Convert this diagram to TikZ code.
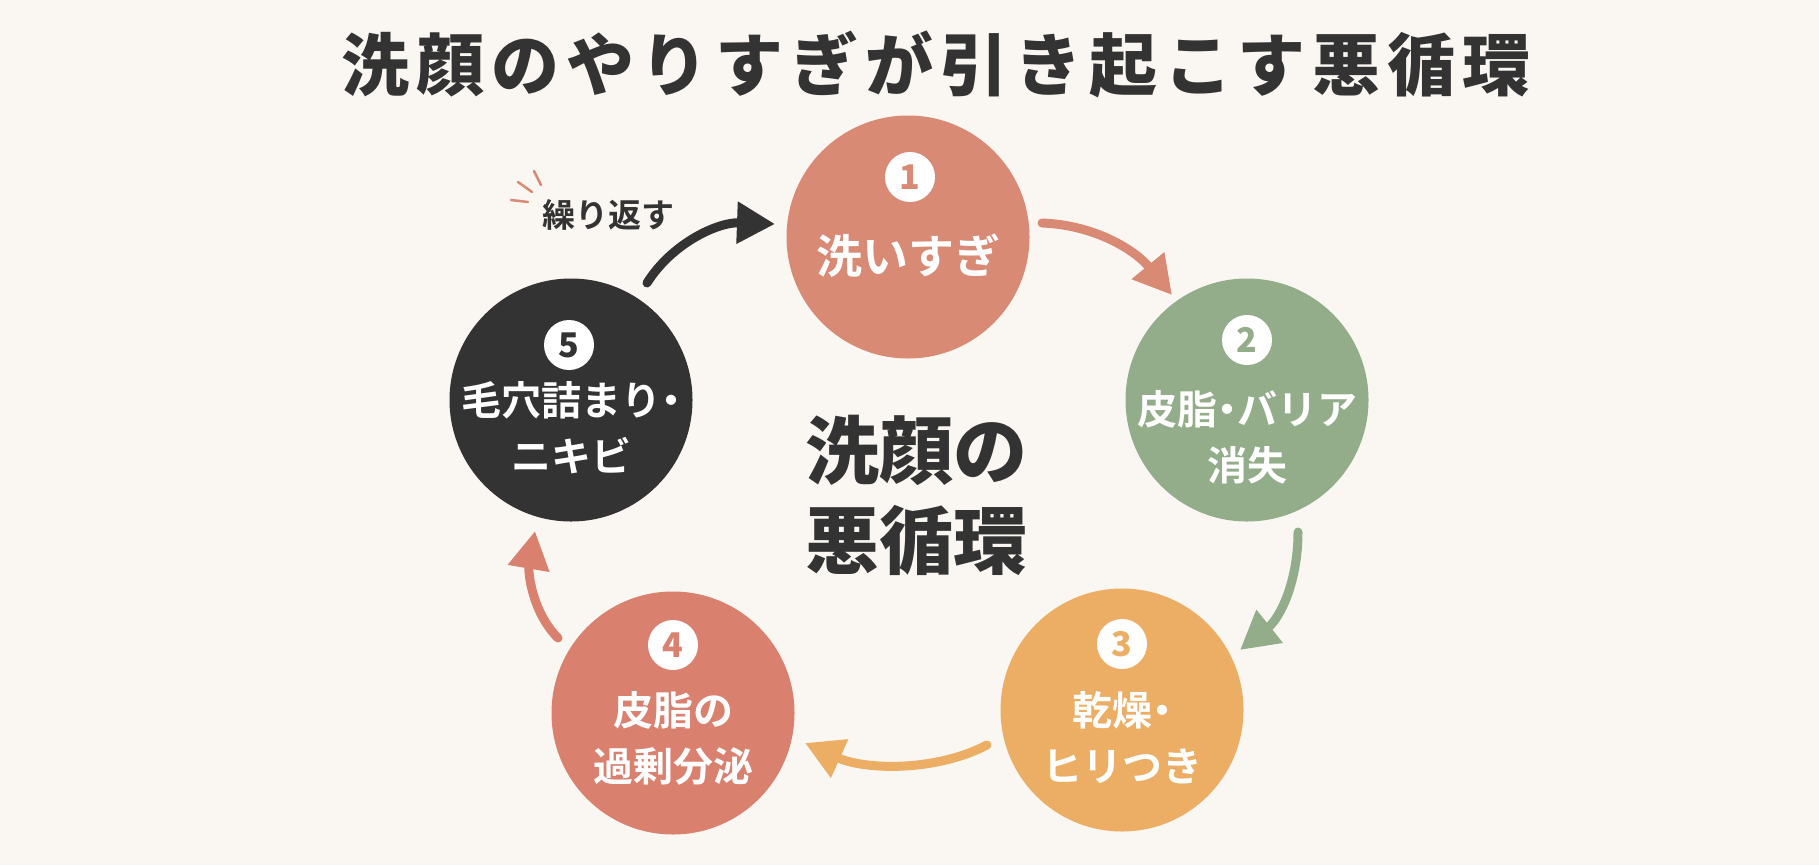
\documentclass[tikz,border=0pt]{standalone}
\usepackage{fontspec}
\newfontfamily\cjk{Noto Sans CJK JP}[BoldFont={Noto Sans CJK JP Bold}]
\IfFontExistsTF{Noto Sans CJK JP Black}
  {\newfontfamily\cjkblack{Noto Sans CJK JP Black}}
  {\newfontfamily\cjkblack{Noto Sans CJK JP Bold}}
\usetikzlibrary{arrows.meta}
\definecolor{bg}{HTML}{FAF7F2}
\definecolor{salmon}{HTML}{D98A75}
\definecolor{salmonb}{HTML}{D9806F}
\definecolor{sage}{HTML}{93AD8A}
\definecolor{amber}{HTML}{EBAE64}
\definecolor{ink}{HTML}{333333}
\newcommand{\hdot}{{\addfontfeature{RawFeature=+palt}・}}
\tikzset{
  stage/.style={circle, fill=#1, minimum size=243pt, inner sep=0pt},
  badge/.style={circle, fill=white, minimum size=50pt, inner sep=0pt, text=#1, font=\cjkblack\fontsize{34}{36}\selectfont},
  label/.style={text=white, align=center, font=\cjk\bfseries\fontsize{40}{56}\selectfont},
  flow/.style={draw=#1, line width=9pt, line cap=round, -{Triangle[length=38pt,width=40pt]}},
  spark/.style={draw=salmon, line width=2.5pt, line cap=round}
}
\begin{document}
\begin{tikzpicture}[x=1pt,y=-1pt]
\fill[bg] (0,0) rectangle (1819,865);
\useasboundingbox (0,0) rectangle (1819,865);
\node[text=ink, font=\cjkblack\fontsize{68}{80}\selectfont, inner sep=0pt] (title) at (936,64) {\addfontfeature{LetterSpace=10}洗顔のやりすぎが引き起こす悪循環};
% circles
\node[stage=salmon] (c1) at (908,237) {};
\node[stage=sage] (c2) at (1247,400) {};
\node[stage=amber] (c3) at (1122,710) {};
\node[stage=salmonb] (c4) at (673,713) {};
\node[stage=ink] (c5) at (571,400) {};
% badges
\node[badge=salmon] (b1) at (910,177) {1};
\node[badge=sage] (b2) at (1247,340) {2};
\node[badge=amber] (b3) at (1122,644) {3};
\node[badge=salmonb] (b4) at (673,645) {4};
\node[badge=ink] (b5) at (569,345) {5};
% labels
\node[label, font=\cjk\bfseries\fontsize{46}{56}\selectfont] (l1) at (908,256) {洗いすぎ};
\node[label] (l2) at (1247,437) {皮脂\hdot バリア\\消失};
\node[label] (l3) at (1122,738) {乾燥\hdot\\ヒリつき};
\node[label] (l4) at (673,738) {皮脂の\\過剰分泌};
\node[label] (l5) at (571,428) {毛穴詰まり\hdot\\ニキビ};
% center
\node[text=ink, align=center, font=\cjkblack\fontsize{74}{90}\selectfont] (center) at (916,495) {洗顔の\\悪循環};
% repeat label
\node[text=ink, font=\cjk\bfseries\fontsize{33}{40}\selectfont] (rep) at (608,215) {繰り返す};
\coordinate (s1a) at (511,200); \coordinate (s1b) at (528,202);
\coordinate (s2a) at (518,182); \coordinate (s2b) at (532,192);
\coordinate (s3a) at (534,171); \coordinate (s3b) at (541,185);
\draw[spark] (s1a) -- (s1b);
\draw[spark] (s2a) -- (s2b);
\draw[spark] (s3a) -- (s3b);
% arrow ends
\coordinate (a12s) at (1042,223); \coordinate (a12e) at (1172,295);
\coordinate (a23s) at (1298,532); \coordinate (a23e) at (1240,650);
\coordinate (a34s) at (987,745); \coordinate (a34e) at (805,743);
\coordinate (a45s) at (558,638); \coordinate (a45e) at (535,531);
\coordinate (a51s) at (647,283); \coordinate (a51e) at (775,224);
\draw[flow=salmon] (a12s) .. controls (1095,225) and (1135,250) .. (a12e);
\draw[flow=sage] (a23s) .. controls (1298,582) and (1280,618) .. (a23e);
\draw[flow=amber] (a34s) .. controls (935,772) and (865,770) .. (a34e);
\draw[flow=salmonb] (a45s) .. controls (532,612) and (528,572) .. (a45e);
\draw[flow=ink] (a51s) .. controls (672,243) and (718,222) .. (a51e);
\end{tikzpicture}
\end{document}
